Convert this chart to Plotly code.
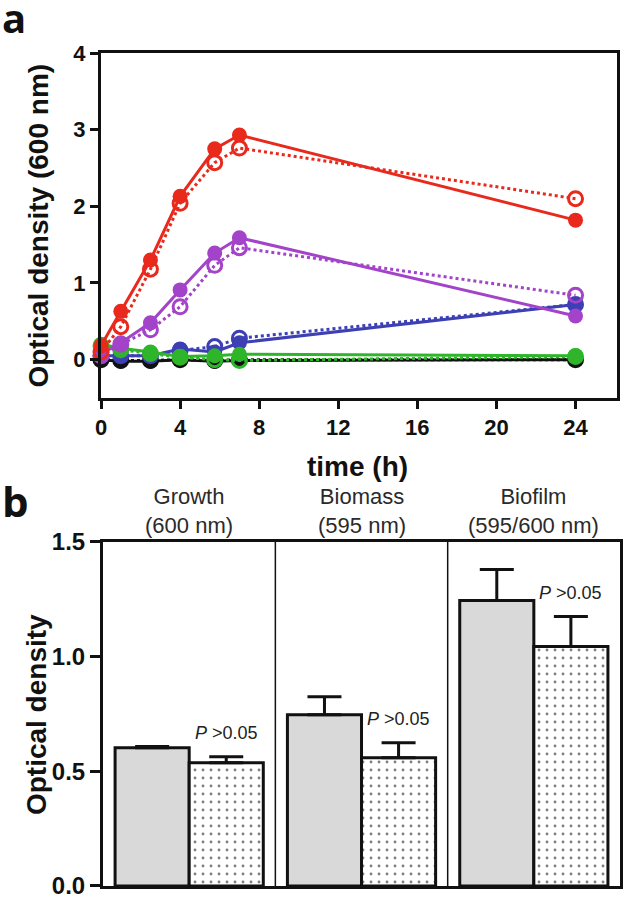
import plotly.graph_objects as go

# ---------------- Panel a data ----------------
time_h = [0, 1, 2.5, 4, 5.75, 7, 24]
red_solid = [0.18, 0.63, 1.30, 2.13, 2.75, 2.93, 1.82]
red_dotted = [0.10, 0.43, 1.18, 2.04, 2.57, 2.76, 2.10]
purple_solid = [0.07, 0.22, 0.48, 0.91, 1.39, 1.59, 0.57]
purple_dotted = [0.05, 0.20, 0.39, 0.69, 1.23, 1.46, 0.84]
blue_solid = [0.05, 0.05, 0.05, 0.14, 0.10, 0.22, 0.72]
blue_dotted = [0.05, 0.05, 0.05, 0.12, 0.17, 0.28, 0.72]
green_solid = [0.20, 0.15, 0.10, 0.04, 0.05, 0.07, 0.05]
green_dotted = [0.18, 0.13, 0.08, 0.03, 0.00, -0.01, 0.04]
black_solid = [0.00, -0.02, -0.02, 0.00, -0.02, -0.01, 0.00]
black_dotted = [0.00, -0.01, -0.01, 0.00, -0.01, 0.00, 0.00]

xticks_a = [0, 4, 8, 12, 16, 20, 24]
yticks_a = [0, 1, 2, 3, 4]

# ---------------- Panel b data ----------------
groups = ["Growth<br>(600 nm)", "Biomass<br>(595 nm)", "Biofilm<br>(595/600 nm)"]
gray_vals = [0.603, 0.747, 1.245]
gray_err = [0.005, 0.078, 0.135]
dot_vals = [0.537, 0.559, 1.044]
dot_err = [0.026, 0.065, 0.131]
p_labels = ["<i>P</i> >0.05", "<i>P</i> >0.05", "<i>P</i> >0.05"]
yticks_b = [0.0, 0.5, 1.0, 1.5]
yticks_b_text = ["0.0", "0.5", "1.0", "1.5"]

RED = "#e8291c"
PURPLE = "#a243c9"
BLUE = "#3d3fb5"
GREEN = "#2fb52a"
BLACK = "#111111"
FONT = "Liberation Sans, Arial, sans-serif"

fig = go.Figure()

series = [
    (black_solid, black_dotted, BLACK),
    (blue_solid, blue_dotted, BLUE),
    (green_solid, green_dotted, GREEN),
    (purple_solid, purple_dotted, PURPLE),
    (red_solid, red_dotted, RED),
]
for solid, dotted, col in series:
    fig.add_trace(go.Scatter(
        x=time_h, y=dotted, mode="lines+markers", xaxis="x", yaxis="y",
        line=dict(color=col, width=3, dash="dot"),
        marker=dict(symbol="circle-open", size=14, line=dict(color=col, width=3)),
        cliponaxis=False, showlegend=False))
    fig.add_trace(go.Scatter(
        x=time_h, y=solid, mode="lines+markers", xaxis="x", yaxis="y",
        line=dict(color=col, width=3),
        marker=dict(symbol="circle", size=15, color=col),
        cliponaxis=False, showlegend=False))

# Panel b bars
xb = [0, 1, 2]
fig.add_trace(go.Bar(
    x=xb, y=gray_vals, xaxis="x2", yaxis="y2",
    marker=dict(color="#d9d9d9", line=dict(color=BLACK, width=3)),
    error_y=dict(type="data", array=gray_err, arrayminus=[0, 0, 0], symmetric=False,
                 color=BLACK, thickness=3, width=17),
    showlegend=False))
fig.add_trace(go.Bar(
    x=xb, y=dot_vals, xaxis="x2", yaxis="y2",
    marker=dict(color="white", line=dict(color=BLACK, width=3),
                pattern=dict(shape=".", fgcolor="#000000", bgcolor="white",
                             size=8, solidity=0.1)),
    error_y=dict(type="data", array=dot_err, arrayminus=[0, 0, 0], symmetric=False,
                 color=BLACK, thickness=3, width=17),
    showlegend=False))

tick_a = dict(family=FONT, size=22, color="#111111", weight="bold")
tick_b = dict(family=FONT, size=24, color="#111111", weight="bold")
title_font = dict(family=FONT, size=28, color="#111111", weight="bold")

fig.update_layout(
    width=629, height=900,
    margin=dict(l=0, r=0, t=0, b=0),
    paper_bgcolor="white", plot_bgcolor="white",
    bargap=0.14, bargroupgap=0,
    xaxis=dict(domain=[0.1606, 0.981], anchor="y", range=[0, 26.1], automargin=False,
               tickvals=xticks_a, ticks="outside", ticklen=8, tickwidth=3,
               tickcolor=BLACK, showline=True, linewidth=3, linecolor=BLACK,
               mirror=True, showgrid=False, zeroline=False, tickfont=tick_a),
    yaxis=dict(domain=[0.5578, 0.9411], anchor="x", range=[-0.5, 4], automargin=False,
               tickvals=yticks_a, ticks="outside", ticklen=8, tickwidth=3,
               tickcolor=BLACK, showline=True, linewidth=3, linecolor=BLACK,
               mirror=True, showgrid=False, zeroline=False, tickfont=tick_a),
    xaxis2=dict(domain=[0.1638, 0.9857], anchor="y2", range=[-0.5, 2.5], automargin=False,
                showticklabels=False, ticks="", showline=True, linewidth=3,
                linecolor=BLACK, mirror=True, showgrid=False, zeroline=False),
    yaxis2=dict(domain=[0.0156, 0.3978], anchor="x2", range=[0, 1.5], automargin=False,
                tickvals=yticks_b, ticktext=yticks_b_text,
                ticks="outside", ticklen=10, tickwidth=3, tickcolor=BLACK,
                showline=True, linewidth=3, linecolor=BLACK, mirror=True,
                showgrid=False, zeroline=False, tickfont=tick_b),
)

# axis titles as annotations
fig.add_annotation(x=0.5680, y=0.4822, xref="paper", yref="paper", text="time (h)",
                   showarrow=False, xanchor="center", yanchor="middle", font=title_font)
fig.add_annotation(x=0.0620, y=0.7494, xref="paper", yref="paper", text="Optical density (600 nm)",
                   showarrow=False, xanchor="center", yanchor="middle", textangle=-90, font=title_font)
fig.add_annotation(x=0.0590, y=0.2056, xref="paper", yref="paper", text="Optical density",
                   showarrow=False, xanchor="center", yanchor="middle", textangle=-90, font=title_font)

# separators in panel b
for xs in [0.5, 1.5]:
    fig.add_shape(type="line", xref="x2", yref="y2 domain", x0=xs, x1=xs, y0=0, y1=1,
                  line=dict(color=BLACK, width=1.5))

# group headings
for i, g in enumerate(groups):
    fig.add_annotation(x=xb[i], y=0.4000, xref="x2", yref="paper", text=g,
                       showarrow=False, yanchor="bottom", align="center",
                       font=dict(family=FONT, size=22, color="#2a2a2a"))

# P labels
for i, t in enumerate(p_labels):
    fig.add_annotation(x=xb[i] + 0.215, y=dot_vals[i] + dot_err[i] + 0.05, xref="x2", yref="y2",
                       text=t, showarrow=False, yanchor="bottom",
                       font=dict(family=FONT, size=18, color="#222222"))

# panel letters
fig.add_annotation(x=0.0, y=0.981, xref="paper", yref="paper", text="a", showarrow=False,
                   xanchor="left", yanchor="middle",
                   font=dict(family="Open Sans, sans-serif", size=40, color="#111111", weight="bold"))
fig.add_annotation(x=0.0, y=0.4439, xref="paper", yref="paper", text="b", showarrow=False,
                   xanchor="left", yanchor="middle",
                   font=dict(family="Open Sans, sans-serif", size=42, color="#111111", weight="bold"))

fig.write_html("out.html", config={"displayModeBar": False},
               post_script="document.body.style.margin='0px';")
